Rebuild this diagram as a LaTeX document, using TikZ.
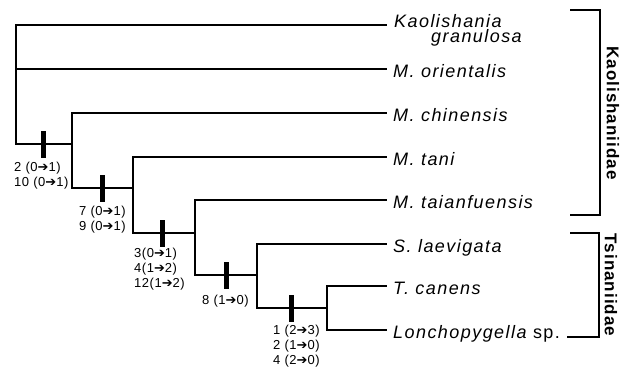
\documentclass[tikz,border=0pt]{standalone}
\usepackage{fontspec}
\setmainfont{Liberation Sans}
\newfontfamily\arrowfont{DejaVu Sans}
\newfontfamily\taxonfont{Liberation Sans}[LetterSpace=8]
\newfontfamily\charfont{Liberation Sans}[LetterSpace=4]
\newfontfamily\cladefont{Liberation Sans}[LetterSpace=6]
% state-change arrow used in the character labels
\newcommand\chgto{{\arrowfont\fontsize{13}{13}\selectfont ➔}}
\tikzset{
  branch/.style={line width=1.3pt, line cap=rect},
  taxon/.style={anchor=west, inner xsep=7pt, inner ysep=0pt,
    text height=16pt, text depth=0pt,
    font=\taxonfont\itshape\fontsize{18}{14}\selectfont},
  synapo/.style={fill=black, draw=none, inner sep=0pt,
    minimum width=5pt, minimum height=27pt},
  charlabel/.style={anchor=north west, align=left, inner sep=0pt,
    font=\charfont\fontsize{13}{15}\selectfont},
  clade/.style={rotate=-90, inner sep=0pt,
    font=\cladefont\bfseries\fontsize{17}{17}\selectfont},
  bracket/.style={line width=1.3pt}
}
\begin{document}
\begin{tikzpicture}[x=1pt, y=-1pt]
\useasboundingbox (0,0) rectangle (630,375);

% internal nodes of the tree
\coordinate (r)  at (16,144);
\coordinate (c1) at (72,144);
\coordinate (c2) at (133,188);
\coordinate (c3) at (195,233);
\coordinate (c4) at (257,275);
\coordinate (c5) at (327,308);

% branch tips
\coordinate (tKg) at (386,25);
\coordinate (tMo) at (386,69);
\coordinate (tMc) at (386,113);
\coordinate (tMt) at (386,157);
\coordinate (tMa) at (386,200);
\coordinate (tSl) at (386,244);
\coordinate (tTc) at (386,286);
\coordinate (tLo) at (386,330);

% taxon names (the two-line name is placed by the baseline of its last line)
\node[anchor=base west, inner sep=0pt, align=left,
      font=\taxonfont\itshape\fontsize{18}{15}\selectfont]
      (Kg) at (394,42) {Kaolishania\\\hspace*{37pt}granulosa};
\node[taxon] (Mo) at (tMo) {M. orientalis};
\node[taxon] (Mc) at (tMc) {M. chinensis};
\node[taxon] (Mt) at (tMt) {M. tani};
\node[taxon] (Ma) at (tMa) {M. taianfuensis};
\node[taxon] (Sl) at (tSl) {S. laevigata};
\node[taxon] (Tc) at (tTc) {T. canens};
\node[taxon] (Lo) at (tLo) {Lonchopygella\upshape{} sp.};

% branches
\draw[branch] (r) |- (tKg);
\draw[branch] (r) |- (tMo);
\draw[branch] (r) -- (c1);
\draw[branch] (c1) |- (tMc);
\draw[branch] (c1) |- (c2);
\draw[branch] (c2) |- (tMt);
\draw[branch] (c2) |- (c3);
\draw[branch] (c3) |- (tMa);
\draw[branch] (c3) |- (c4);
\draw[branch] (c4) |- (tSl);
\draw[branch] (c4) |- (c5);
\draw[branch] (c5) |- (tTc);
\draw[branch] (c5) |- (tLo);

% character-state changes
\node[synapo] (b1) at (43,144) {};
\node[synapo] (b2) at (102,188) {};
\node[synapo] (b3) at (162,233) {};
\node[synapo] (b4) at (226,275) {};
\node[synapo] (b5) at (291,308) {};

\node[charlabel] (l1) at (14,162) {2 (0\chgto1)\\10 (0\chgto1)};
\node[charlabel] (l2) at (79,206) {7 (0\chgto1)\\9 (0\chgto1)};
\node[charlabel] (l3) at (134,248) {3(0\chgto1)\\4(1\chgto2)\\12(1\chgto2)};
\node[charlabel] (l4) at (202,295) {8 (1\chgto0)};
\node[charlabel] (l5) at (273,325) {1 (2\chgto3)\\2 (1\chgto0)\\4 (2\chgto0)};

% family brackets
\draw[bracket] (570,10) -- (600,10) -- (600,215) -- (570,215);
\node[clade] (Ka) at (613,113) {Kaolishaniidae};
\draw[bracket] (570,233) -- (599,233) -- (599,337) -- (567,337);
\node[clade] (Ts) at (611,285) {Tsinaniidae};
\end{tikzpicture}
\end{document}
